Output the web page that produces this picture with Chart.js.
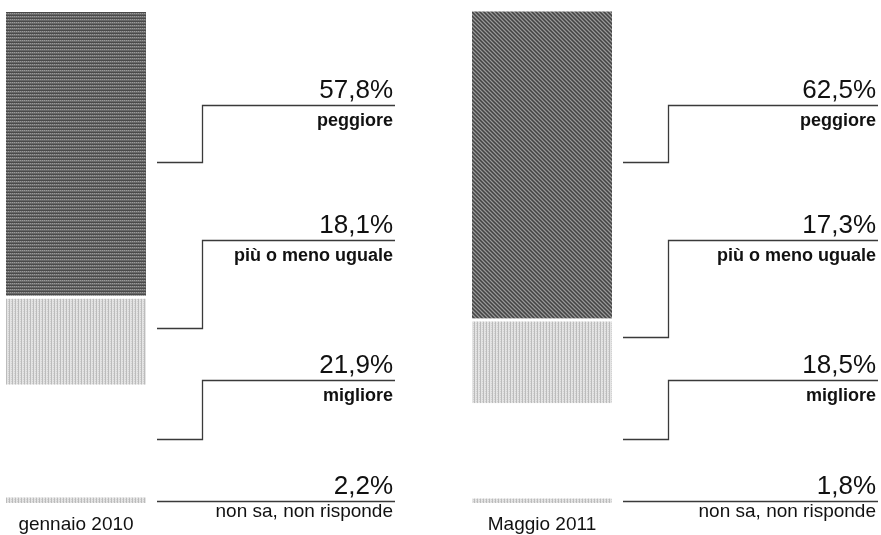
<!DOCTYPE html>
<html>
<head>
<meta charset="utf-8">
<script src="https://cdn.jsdelivr.net/npm/chart.js@4.4.1/dist/chart.umd.min.js"></script>
<style>
  html, body { margin: 0; padding: 0; background: #fff; }
  #wrap { width: 881px; height: 535px; position: relative; }
</style>
</head>
<body>
<div id="wrap"><canvas id="barChart"></canvas></div>
<script>
// data
const periods = ["gennaio 2010", "Maggio 2011"];
const peggiore = [57.8, 62.5];
const uguale = [18.1, 17.3];
const migliore = [21.9, 18.5];
const nonSa = [2.2, 1.8];
const answerNames = ["peggiore", "più o meno uguale", "migliore", "non sa, non risponde"];

// where the callouts sit (layout only)
const calloutRight = [395, 878];
const calloutTop = [105, 240, 380, 501];
const calloutLow = [
  [162, 328, 439],
  [162, 337, 439]
];

function makePattern(w, h, paint) {
  const c = document.createElement("canvas");
  c.width = w;
  c.height = h;
  const g = c.getContext("2d");
  paint(g);
  return g.createPattern(c, "repeat");
}

// dark horizontal hatch (left bar)
const darkStripes = makePattern(4, 3, (g) => {
  g.fillStyle = "#4a4a4a"; g.fillRect(0, 0, 4, 1);
  g.fillStyle = "#727272"; g.fillRect(0, 1, 4, 1);
  g.fillStyle = "#9a9a9a"; g.fillRect(0, 1, 1, 1); g.fillRect(2, 1, 1, 1);
  g.fillStyle = "#686868"; g.fillRect(0, 2, 4, 1);
});

// dark moiré-ish texture (right bar)
const darkTexture = makePattern(4, 4, (g) => {
  g.fillStyle = "#666"; g.fillRect(0, 0, 4, 4);
  g.fillStyle = "#444";
  g.fillRect(0, 0, 1, 1); g.fillRect(1, 1, 1, 1); g.fillRect(2, 2, 1, 1); g.fillRect(3, 3, 1, 1);
  g.fillStyle = "#999";
  g.fillRect(2, 0, 1, 1); g.fillRect(3, 1, 1, 1); g.fillRect(0, 2, 1, 1); g.fillRect(1, 3, 1, 1);
});

// light vertical hatch
const lightStripes = makePattern(3, 2, (g) => {
  g.fillStyle = "#e4e4e4"; g.fillRect(0, 0, 3, 2);
  g.fillStyle = "#bcbcbc"; g.fillRect(0, 0, 1, 2);
  g.fillStyle = "#d2d2d2"; g.fillRect(2, 1, 1, 1);
});

const callouts = {
  id: "callouts",
  afterDatasetsDraw(chart) {
    const ctx = chart.ctx;
    const xs = chart.scales.x;
    ctx.save();
    periods.forEach((p, i) => {
      const cx = xs.getPixelForValue(i);
      const lowStart = cx + 81;
      const bend = cx + 126;
      const right = calloutRight[i];
      const vals = [peggiore[i], uguale[i], migliore[i], nonSa[i]];

      vals.forEach((v, k) => {
        const top = calloutTop[k];
        ctx.strokeStyle = "#3a3a3a";
        ctx.lineWidth = 1.3;
        ctx.beginPath();
        if (k < 3) {
          const low = calloutLow[i][k];
          ctx.moveTo(lowStart, low + 0.5);
          ctx.lineTo(bend + 0.5, low + 0.5);
          ctx.lineTo(bend + 0.5, top + 0.5);
          ctx.lineTo(right, top + 0.5);
        } else {
          ctx.moveTo(lowStart, top + 0.5);
          ctx.lineTo(right, top + 0.5);
        }
        ctx.stroke();

        ctx.fillStyle = "#111";
        ctx.textAlign = "right";
        ctx.textBaseline = "alphabetic";
        ctx.font = "26px 'Liberation Sans', Arial, sans-serif";
        ctx.fillText(v.toFixed(1).replace(".", ",") + "%", right - 2, top - 7);
        if (k < 3) {
          ctx.font = "bold 18px 'Liberation Sans', Arial, sans-serif";
          ctx.fillText(answerNames[k], right - 2, top + 21);
        } else {
          ctx.font = "19px 'Liberation Sans', Arial, sans-serif";
          ctx.fillText(answerNames[k], right - 2, top + 16);
        }
      });

      ctx.font = "19px 'Liberation Sans', Arial, sans-serif";
      ctx.textAlign = "center";
      ctx.fillStyle = "#111";
      ctx.fillText(p, cx, 530);
    });
    ctx.restore();
  }
};

new Chart(document.getElementById("barChart"), {
  type: "bar",
  data: {
    labels: periods,
    datasets: [
      {
        label: answerNames[3],
        data: nonSa,
        backgroundColor: lightStripes,
        borderColor: "#fff",
        borderWidth: { top: 7, right: 0, bottom: 0, left: 0 },
        borderSkipped: false
      },
      {
        label: answerNames[2],
        data: migliore,
        backgroundColor: "rgba(255,255,255,0)",
        borderWidth: 0
      },
      {
        label: answerNames[1],
        data: uguale,
        backgroundColor: lightStripes,
        borderColor: "#fff",
        borderWidth: { top: 3, right: 0, bottom: 0, left: 0 },
        borderSkipped: false
      },
      {
        label: answerNames[0],
        data: peggiore,
        backgroundColor: [darkStripes, darkTexture],
        borderWidth: 0
      }
    ]
  },
  options: {
    responsive: true,
    maintainAspectRatio: false,
    animation: false,
    layout: { padding: { left: 76, right: 339, top: 12, bottom: 32 } },
    datasets: { bar: { barThickness: 140, clip: false, inflateAmount: 0 } },
    plugins: { legend: { display: false }, tooltip: { enabled: false } },
    scales: {
      x: { display: false, stacked: true, offset: false },
      y: { display: false, stacked: true, min: 0, max: 100 }
    }
  },
  plugins: [callouts]
});
</script>
</body>
</html>
